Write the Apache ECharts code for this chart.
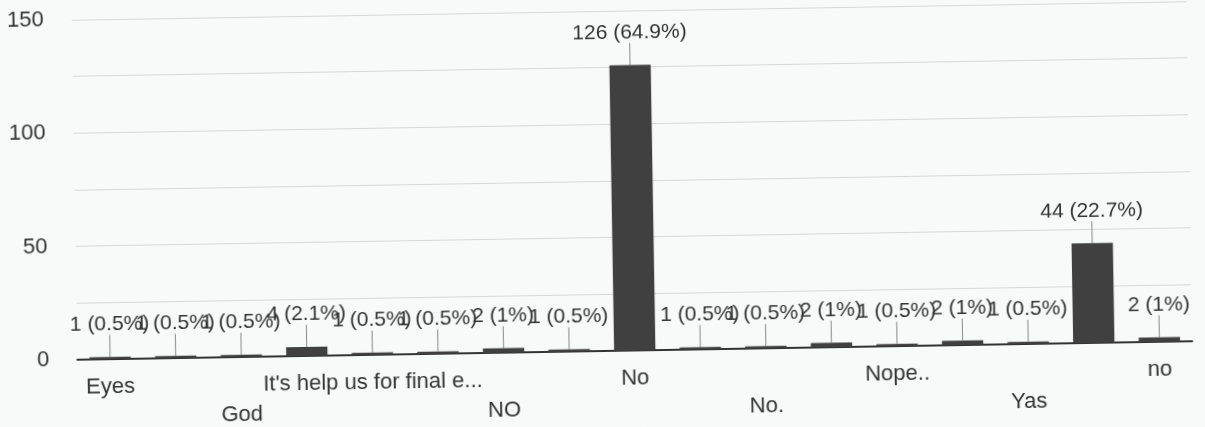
<!DOCTYPE html>
<html>
<head>
<meta charset="utf-8">
<script src="https://cdn.jsdelivr.net/npm/echarts@6/dist/echarts.min.js"></script>
<style>
html,body{margin:0;padding:0;background:#f8f9f9;}
#c{width:1205px;height:427px;transform:rotate(-0.95deg);transform-origin:50% 50%;}
</style>
</head>
<body>
<div id="c"></div>
<script>
const categories = ["Eyes","Fine","God","Good","It's help us for final e...","Maybe","NO","NOPE","No","No need","No.","Non","Nope..","Sure","Yas","Yes","no"];
const counts = [1,1,1,4,1,1,2,1,126,1,1,2,1,2,1,44,2];
const percents = ["0.5","0.5","0.5","2.1","0.5","0.5","1","0.5","64.9","0.5","0.5","1","0.5","1","0.5","22.7","1"];
const yTicks = [0,50,100,150];

const chart = echarts.init(document.getElementById('c'));
chart.setOption({
  backgroundColor: '#f8f9f9',
  animation: false,
  grid: {left: 75, right: 15, top: 11, bottom: 76, containLabel: false},
  xAxis: {
    type: 'category',
    data: categories,
    axisLine: {lineStyle: {color: '#333', width: 2}},
    axisTick: {show: false},
    axisLabel: {
      interval: 1,
      margin: 13,
      fontFamily: 'Liberation Sans, Arial, sans-serif',
      fontSize: 22,
      color: '#333',
      lineHeight: 30,
      formatter: function (v, i) { return (i % 4 === 2) ? '\n' + v : v; }
    }
  },
  yAxis: {
    type: 'value',
    min: 0, max: 150, interval: 25,
    axisLine: {show: false},
    axisTick: {show: false},
    splitLine: {lineStyle: {color: '#d6d8d8', width: 1}},
    axisLabel: {
      margin: 28,
      fontFamily: 'Liberation Sans, Arial, sans-serif',
      fontSize: 22,
      color: '#333',
      formatter: function (v) { return yTicks.indexOf(v) >= 0 ? String(v) : ''; }
    }
  },
  series: [{
    type: 'bar',
    data: counts,
    barWidth: '63%',
    itemStyle: {color: '#404040'},
    label: {
      show: true,
      position: 'top',
      distance: 2,
      fontFamily: 'Liberation Sans, Arial, sans-serif',
      fontSize: 21,
      color: '#333',
      formatter: function (p) { return p.value + ' (' + percents[p.dataIndex] + '%)'; }
    },
    labelLayout: {dy: -20},
    labelLine: {show: true, lineStyle: {color: '#888', width: 1}}
  }]
});
</script>
</body>
</html>
